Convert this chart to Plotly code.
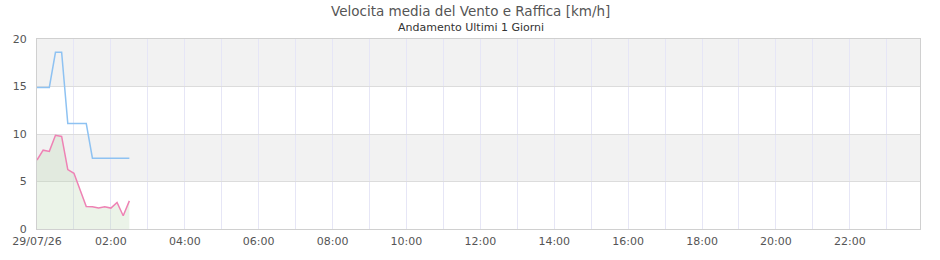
import plotly.graph_objects as go
import pandas as pd

times = pd.date_range("2026-07-29 00:00", periods=16, freq="10min")
media = [7.26, 8.3, 8.17, 9.87, 9.74, 6.25, 5.86, 4.0, 2.37, 2.34, 2.2, 2.34, 2.2, 2.8, 1.4, 2.96]
raffica = [14.9, 14.9, 14.9, 18.6, 18.6, 11.1, 11.1, 11.1, 11.1, 7.45, 7.45, 7.45, 7.45, 7.45, 7.45, 7.45]

tick_vals = pd.date_range("2026-07-29 00:00", periods=12, freq="2h")
tick_text = ["29/07/26", "02:00", "04:00", "06:00", "08:00", "10:00", "12:00",
             "14:00", "16:00", "18:00", "20:00", "22:00"]
band_ranges = [(5, 10), (15, 20)]
title_text = "Velocita media del Vento e Raffica [km/h]"
subtitle_text = "Andamento Ultimi 1 Giorni"

fig = go.Figure()
fig.add_trace(go.Scatter(x=times, y=media, mode="lines", name="Velocita media",
                         line=dict(color="#ee82b4", width=1.5),
                         fill="tozeroy", fillcolor="rgba(190,215,180,0.3)"))
fig.add_trace(go.Scatter(x=times, y=raffica, mode="lines", name="Raffica",
                         line=dict(color="#8ec2f2", width=1.5)))

for lo, hi in band_ranges:
    fig.add_shape(type="rect", xref="paper", yref="y", x0=0, x1=1, y0=lo, y1=hi,
                  fillcolor="#f2f2f2", line_width=0, layer="below")

fig.add_annotation(text=title_text, xref="paper", yref="paper", x=0.5, y=1,
                   xshift=-8, yshift=28, xanchor="center", yanchor="middle", showarrow=False,
                   font=dict(size=13.5, color="#555"))
fig.add_annotation(text=subtitle_text, xref="paper", yref="paper", x=0.5, y=1,
                   xshift=-8, yshift=12, xanchor="center", yanchor="middle", showarrow=False,
                   font=dict(size=11, color="#333"))

fig.update_layout(
    width=940, height=260,
    margin=dict(l=35, r=20, t=39, b=30),
    paper_bgcolor="white", plot_bgcolor="white",
    showlegend=False,
    font=dict(family="DejaVu Sans", size=11, color="#555"),
    hovermode=False,
)
fig.update_xaxes(
    type="date",
    range=["2026-07-29 00:00", "2026-07-29 23:54"],
    tickvals=tick_vals, ticktext=tick_text,
    showgrid=True, gridcolor="#e6e6f6", gridwidth=1,
    minor=dict(dtick=3600000, tick0="2026-07-29 00:00", showgrid=True, gridcolor="#e6e6f6"),
    showline=True, linecolor="#d0d0d0", mirror=True,
    ticks="", ticklabelstandoff=2, tickfont=dict(size=11, color="#555"),
)
fig.update_yaxes(
    range=[0, 20], dtick=5,
    showgrid=True, gridcolor="#dcdcdc",
    showline=True, linecolor="#d0d0d0", mirror=True,
    zeroline=False, ticks="", ticklabelstandoff=7, tickfont=dict(size=11, color="#555"),
)

fig.write_html("out.html")
